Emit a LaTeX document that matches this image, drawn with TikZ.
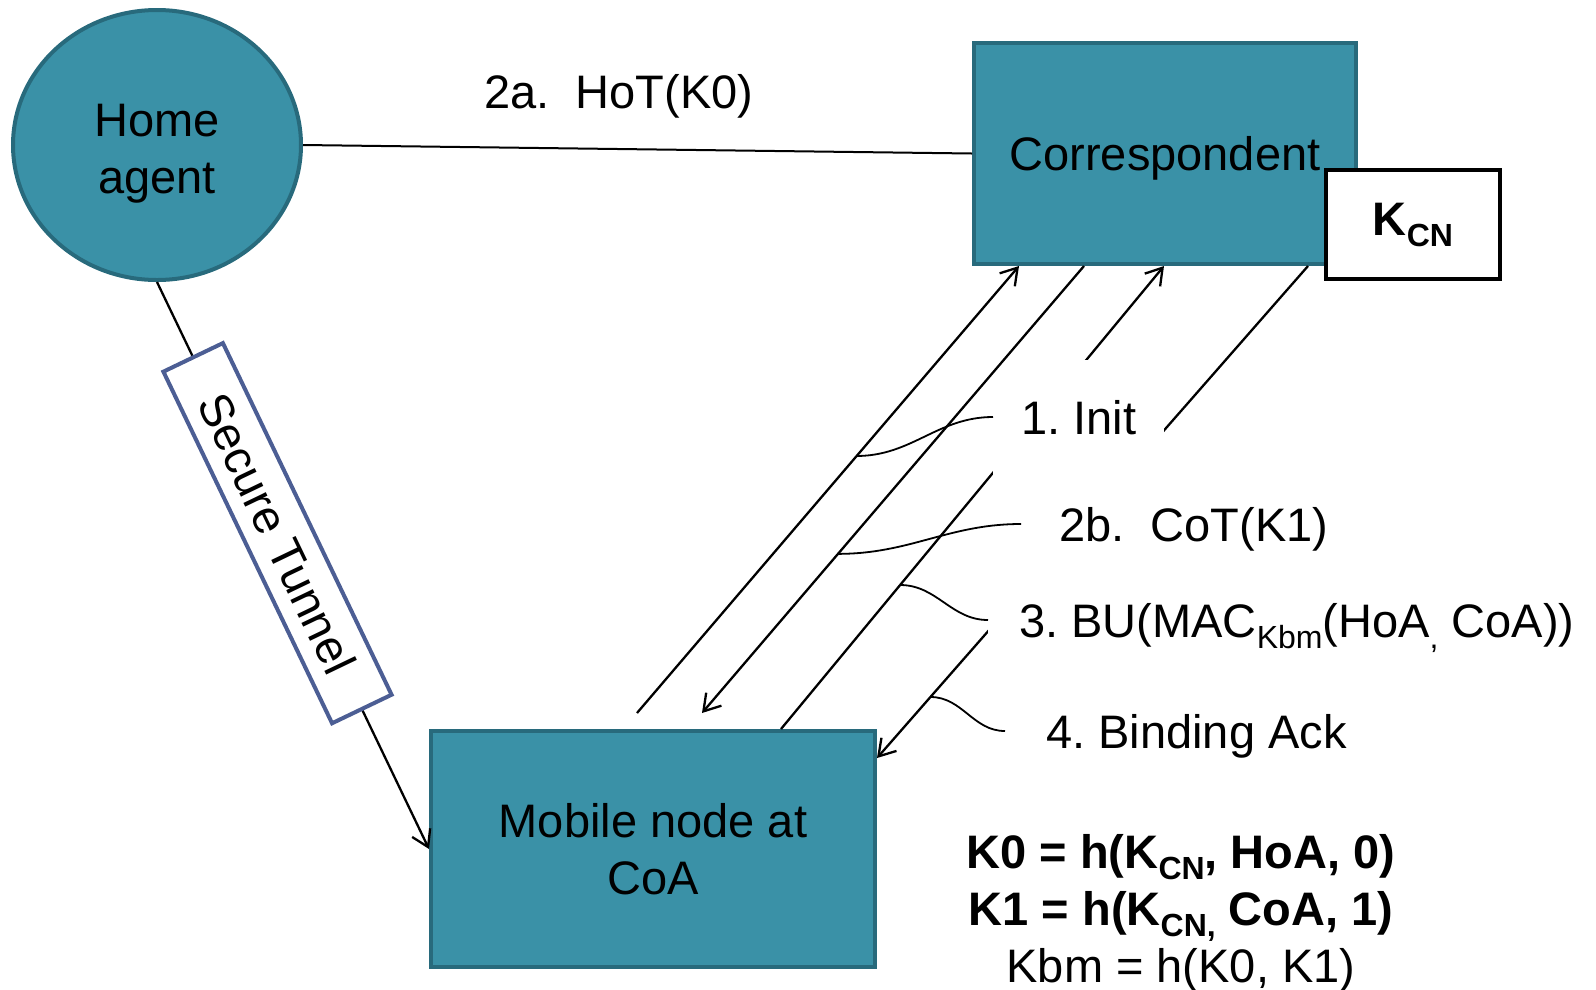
\documentclass[tikz,border=0pt]{standalone}
\usepackage{fontspec}
\setmainfont{Liberation Sans}
\usepackage{tikz}
\usetikzlibrary{arrows.meta,positioning,calc,shapes.geometric}
\definecolor{nodefill}{RGB}{58,145,167}
\definecolor{nodeedge}{RGB}{40,106,124}
\definecolor{tunneledge}{RGB}{76,94,148}
\newcommand{\lowsub}[1]{\raisebox{-11pt}{\fontsize{32}{32}\selectfont #1}}
\frenchspacing

\begin{document}
\begin{tikzpicture}[x=1pt,y=-1pt,
  big/.style={font=\fontsize{47}{57}\selectfont},
  entity/.style={big,draw=nodeedge,fill=nodefill,line width=4pt,align=center,inner sep=0pt},
  tunnel/.style={big,draw=tunneledge,fill=white,line width=4pt,minimum width=390pt,minimum height=66pt,inner sep=0pt},
  msg/.style={line width=2.3pt,-{Straight Barb[length=16pt,width=20pt]}},
  lbl/.style={big,fill=white,anchor=west,inner ysep=0pt,text height=34pt,text depth=0pt},
  lead/.style={line width=1.8pt}]
  \useasboundingbox (0,0) rectangle (1596,989);
  \node[entity,ellipse,minimum width=288pt,minimum height=270pt] (ha) at (157,145) {\rule{0pt}{50pt}Home\\agent};
  \node[entity,rectangle,minimum width=382pt,minimum height=221pt] (cn) at (1165,153.5) {\rule{0pt}{44pt}Correspondent};
  \node[draw=black,fill=white,line width=4pt,minimum width=174pt,minimum height=109pt,
        font=\fontsize{47}{57}\selectfont\bfseries] (kcn) at (1413,224.5) {K\lowsub{CN}};
  \node[entity,rectangle,minimum width=444pt,minimum height=236pt] (mn) at (653,849) {Mobile node at\\CoA};

  % home agent side
  \draw[line width=2pt] (ha.east) -- (cn.west);
  \node[big] (hot) at (619,96) {2a.\ \ HoT(K0)};
  \draw[msg] (ha.south) -- node[tunnel,sloped,pos=0.443] (st) {Secure Tunnel} (mn.west);

  % messages 3 and 4 (partly hidden by the labels)
  \draw[msg] ([xshift=352pt]mn.north west) -- coordinate[pos=0.311] (m3) ([xshift=192pt]cn.south west);
  \draw[msg] ([xshift=336pt]cn.south west) -- coordinate[pos=0.876] (m4) ([yshift=-29pt]mn.north east);

  \node[lbl,minimum height=115pt,inner xsep=28pt] (init) at (993,417) {1. Init};
  \node[lbl,minimum height=102pt,inner xsep=38pt] (cot) at (1021,524) {2b.\ \ CoT(K1)};
  \node[lbl,minimum height=90pt,inner xsep=31pt] (bu) at (988,620) {3. BU(MAC\lowsub{Kbm}(HoA\lowsub{,} CoA))};
  \node[lbl,inner xsep=41pt] (back) at (1005,731) {4. Binding Ack};

  % messages 1 and 2
  \draw[msg] ([xshift=208pt,yshift=16pt]mn.north west) -- coordinate[pos=0.575] (m1) ([xshift=47pt]cn.south west);
  \draw[msg] ([xshift=112pt]cn.south west) -- coordinate[pos=0.644] (m2) ([xshift=273pt,yshift=16pt]mn.north west);

  \draw[lead] (init.west) to[out=180,in=0] (m1);
  \draw[lead] (cot.west) to[out=180,in=0] (m2);
  \draw[lead] (bu.west) to[out=180,in=0] (m3);
  \draw[lead] (back.west) to[out=180,in=0] (m4);

  \node[big,align=center] (keys) at (1181,913)
    {\textbf{K0 = h(K\lowsub{CN}, HoA, 0)}\\\textbf{K1 = h(K\lowsub{CN,} CoA, 1)}\\Kbm = h(K0, K1)};
\end{tikzpicture}
\end{document}
